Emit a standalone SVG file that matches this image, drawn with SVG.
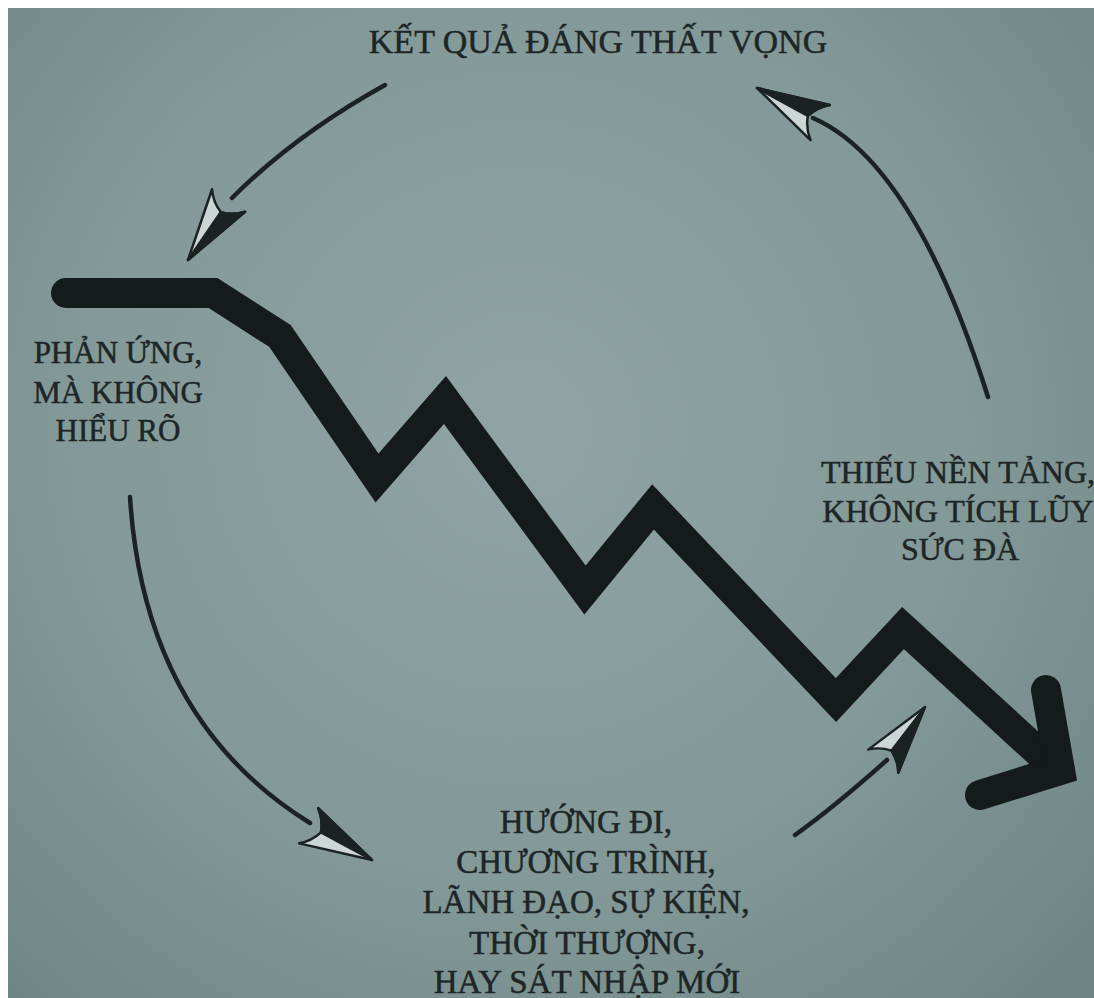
<svg xmlns="http://www.w3.org/2000/svg" xmlns:xlink="http://www.w3.org/1999/xlink" width="1094" height="998" viewBox="0 0 1094 998">
<style>
.lbl{font-family:"Liberation Serif","Times New Roman",serif;fill:#1c2626;stroke:#1c2626;stroke-width:0.5;text-anchor:middle}
.arc{fill:none;stroke:#1a2222;stroke-width:4.5;stroke-linecap:round}
.zig{fill:none;stroke:#151a1a;stroke-width:30;stroke-linejoin:miter;stroke-miterlimit:6}
</style>
<defs>
<radialGradient id="bg" cx="520" cy="430" r="760" gradientUnits="userSpaceOnUse">
<stop offset="0" stop-color="#90a5a3"/>
<stop offset="0.6" stop-color="#839997"/>
<stop offset="1" stop-color="#6e8684"/>
</radialGradient>
<g id="ah">
<path d="M0,0 L-72,-20 Q-62,-12 -58,0 Q-62,12 -72,20 Z" fill="#ccd6d4" stroke="#1a2222" stroke-width="2.5" stroke-linejoin="round"/>
<path d="M0,0 L-72,-20 Q-62,-12 -58,0 Z" fill="#1a2222" stroke="#1a2222" stroke-width="2.5" stroke-linejoin="round"/>
</g>
</defs>
<rect x="0" y="0" width="1094" height="998" fill="#ffffff"/>
<rect x="8" y="8" width="1086" height="990" fill="url(#bg)"/>

<g id="trend">
<path class="zig" d="M66,293 L213,293 L280,336 L377,478 L445,400 L585,590 L653,507 L836,700 L903,628 L1058,770" stroke-linecap="round"/>
<path class="zig" d="M1046,690 L1060,770 L980,795" stroke-linecap="round"/>
</g>

<g id="connectors">
<path class="arc" d="M385,85 Q295,135 232,198"/>
<use xlink:href="#ah" href="#ah" transform="translate(188,260) rotate(124.3)"/>
<path class="arc" d="M988,397 Q914,162 813,118"/>
<use xlink:href="#ah" href="#ah" transform="translate(757,88) rotate(208.7) scale(1,-1)"/>
<path class="arc" d="M130,497 Q144,720 310,823"/>
<use xlink:href="#ah" href="#ah" transform="translate(372,860) rotate(28.4)"/>
<path class="arc" d="M795,835 Q833,808 887,760"/>
<use xlink:href="#ah" href="#ah" transform="translate(925,707) rotate(-52.4) scale(0.95,-0.95)"/>
</g>

<g id="node-top">
<text class="lbl" x="598" y="53" font-size="34">KẾT QUẢ ĐÁNG THẤT VỌNG</text>
</g>
<g id="node-left">
<text class="lbl" x="118" y="363" font-size="31">PHẢN ỨNG,</text>
<text class="lbl" x="118" y="403" font-size="31">MÀ KHÔNG</text>
<text class="lbl" x="118" y="441" font-size="31">HIỂU RÕ</text>
</g>
<g id="node-right">
<text class="lbl" x="958" y="483" font-size="32">THIẾU NỀN TẢNG,</text>
<text class="lbl" x="958" y="522" font-size="32">KHÔNG TÍCH LŨY</text>
<text class="lbl" x="960" y="560" font-size="32">SỨC ĐÀ</text>
</g>
<g id="node-bottom">
<text class="lbl" x="586" y="833" font-size="33">HƯỚNG ĐI,</text>
<text class="lbl" x="586" y="873" font-size="33">CHƯƠNG TRÌNH,</text>
<text class="lbl" x="586" y="913" font-size="33">LÃNH ĐẠO, SỰ KIỆN,</text>
<text class="lbl" x="587" y="954" font-size="33">THỜI THƯỢNG,</text>
<text class="lbl" x="587" y="993" font-size="33">HAY SÁT NHẬP MỚI</text>
</g>
</svg>
